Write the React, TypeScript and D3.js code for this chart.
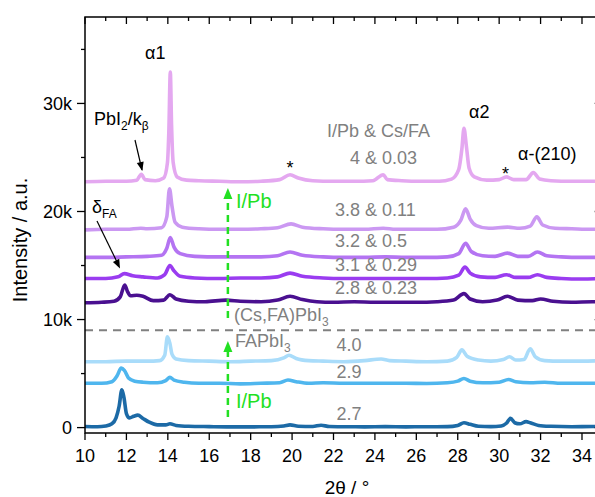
import React from 'react';
import * as d3 from 'd3';

// ---------- data (2θ in °, intensity in counts) ----------
const s27: [number, number][] = [
  [10,100],[10.6,80],[11.0,150],[11.3,350],[11.5,900],[11.65,2000],[11.78,3500],[11.88,2800],[12.0,1300],[12.15,900],[12.35,1050],[12.55,1150],[12.8,850],[13.1,500],[13.5,250],[13.9,250],[14.1,350],[14.4,200],[15,120],[16,90],[17,70],[18,70],[19,80],[19.6,150],[19.9,250],[20.3,120],[21,100],[21.4,220],[21.8,100],[22.5,80],[23.5,70],[24.5,90],[25.5,70],[26.5,80],[27.5,90],[28,200],[28.3,450],[28.6,300],[29.0,120],[29.6,90],[30.1,150],[30.35,400],[30.55,850],[30.75,450],[31.0,350],[31.3,550],[31.5,450],[31.9,200],[32.5,120],[33.5,80],[34.5,100],[35,100]
];
const s29: [number, number][] = [
  [10,4100],[10.8,4100],[11.3,4250],[11.55,4800],[11.75,5500],[11.9,5300],[12.1,4600],[12.4,4300],[12.8,4200],[13.5,4150],[13.9,4350],[14.1,4650],[14.3,4400],[14.8,4200],[15.5,4100],[16.5,4100],[17.5,4050],[18.5,4100],[19.4,4150],[19.8,4400],[20.2,4250],[20.8,4100],[21.5,4150],[22.5,4100],[23.5,4100],[24.5,4100],[25.5,4100],[26.5,4080],[27.5,4150],[28.0,4300],[28.3,4550],[28.6,4300],[29.2,4150],[30.0,4200],[30.45,4450],[30.8,4250],[31.5,4150],[32.2,4200],[33,4100],[34,4100],[35,4100]
];
const s40: [number, number][] = [
  [10,6100],[11,6100],[12,6150],[13,6150],[13.6,6200],[13.85,6700],[13.98,8400],[14.1,7800],[14.2,6800],[14.4,6350],[15,6200],[16,6150],[17,6100],[18,6150],[19,6200],[19.6,6450],[19.85,6700],[20.2,6400],[20.8,6200],[21.5,6150],[22.5,6100],[23.5,6200],[24.3,6350],[24.7,6200],[25.5,6150],[26.5,6100],[27.5,6150],[27.95,6500],[28.2,7200],[28.45,6600],[29,6250],[29.6,6150],[30.2,6300],[30.5,6550],[30.8,6250],[31.2,6300],[31.5,7300],[31.75,6550],[32.2,6200],[33,6150],[34,6150],[35,6200]
];
const s28: [number, number][] = [
  [10,11550],[10.8,11600],[11.4,11700],[11.7,12100],[11.92,13200],[12.05,12600],[12.2,12200],[12.5,12250],[12.8,12150],[13.3,11750],[13.8,11800],[14.1,12300],[14.4,11900],[15,11700],[15.8,11650],[16.8,11800],[17.5,11700],[18.5,11650],[19.3,11800],[19.9,12150],[20.5,11850],[21.2,11650],[22,11600],[23,11650],[24,11600],[25,11600],[26,11600],[27,11650],[27.8,11800],[28.3,12400],[28.6,11900],[29.2,11650],[29.9,11800],[30.4,12150],[30.9,11800],[31.6,11750],[32,11900],[32.6,11700],[33.5,11600],[34.5,11650],[35,11650]
];
const s31: [number, number][] = [
  [10,13800],[11,13800],[11.6,13950],[11.9,14250],[12.3,14050],[12.8,13950],[13.5,13850],[13.85,14150],[14.1,15000],[14.3,14500],[14.6,14000],[15.3,13850],[16.5,13800],[17.5,13850],[18.5,13850],[19.3,13950],[19.9,14300],[20.5,14000],[21.5,13850],[22.5,13800],[23.5,13800],[24.5,13800],[25.5,13800],[26.5,13800],[27.5,13850],[28.05,14100],[28.35,14850],[28.6,14300],[29.1,13950],[29.8,13900],[30.35,14150],[30.8,13900],[31.4,13900],[31.85,14150],[32.3,13900],[33,13800],[34,13750],[35,13800]
];
const s32: [number, number][] = [
  [10,15750],[11,15750],[12,15800],[13,15850],[13.7,15950],[13.95,16600],[14.12,17600],[14.3,16700],[14.6,16100],[15.3,15850],[16.5,15800],[17.5,15800],[18.5,15800],[19.3,15900],[19.9,16250],[20.5,15950],[21.5,15800],[22.5,15750],[23.5,15750],[24.5,15800],[25.5,15750],[26.5,15750],[27.5,15800],[28.05,16100],[28.38,17050],[28.65,16300],[29.2,15900],[29.8,15850],[30.4,16150],[30.9,15850],[31.4,15850],[31.85,16250],[32.3,15900],[33,15800],[34,15750],[35,15750]
];
const s38: [number, number][] = [
  [10,18300],[11,18350],[12,18350],[12.7,18450],[13,18400],[13.7,18500],[13.95,19500],[14.08,22100],[14.2,20500],[14.35,19000],[14.7,18550],[15.5,18400],[16.5,18350],[17.5,18350],[18.5,18400],[19.3,18500],[19.95,18850],[20.5,18550],[21.5,18400],[22.5,18350],[23.5,18350],[24.4,18450],[25,18350],[26,18350],[27,18350],[27.8,18550],[28.15,19200],[28.38,20250],[28.6,19300],[28.9,18700],[29.5,18450],[30.4,18550],[31,18450],[31.5,18650],[31.82,19500],[32.1,18750],[32.7,18450],[33.5,18400],[34.5,18350],[35,18350]
];
const s4003: [number, number][] = [
  [10,22750],[11,22800],[12,22800],[12.5,22900],[12.72,23450],[12.9,22950],[13.4,22850],[13.8,23100],[13.98,24500],[14.05,27500],[14.12,32900],[14.18,28000],[14.26,24500],[14.45,23200],[14.9,22900],[15.5,22850],[16.5,22800],[17.5,22750],[18.5,22800],[19.4,22950],[19.9,23400],[20.3,23100],[21,22850],[22,22800],[23,22800],[23.9,22850],[24.4,23400],[24.6,22950],[25.3,22850],[26.2,22800],[27.1,22800],[27.7,23000],[28.05,23900],[28.2,25800],[28.3,27700],[28.42,26000],[28.55,24000],[28.8,23200],[29.4,22900],[30.0,22950],[30.35,23200],[30.7,22950],[31.3,22950],[31.65,23600],[31.95,23000],[32.5,22850],[33.5,22800],[34.5,22800],[35,22800]
];

const seriesData = [s27, s29, s40, s28, s31, s32, s38, s4003];
const seriesColors = ['#1c6aa6', '#4fb6ee', '#a9dcfa', '#4a1090', '#9a3cf0', '#b474f2', '#cb98f2', '#e4a8f0'];
const seriesLabels = ['2.7', '2.9', '4.0', '2.8 & 0.23', '3.1 & 0.29', '3.2 & 0.5', '3.8 & 0.11', '4 & 0.03'];
const labelPos: [number, number][] = [[22.15, 420], [22.15, 377.5], [22.15, 350.5], [22.07, 293.5], [22.07, 271], [22.07, 247], [22.07, 215.5], [22.8, 163.5]];

const xMajor = [10, 12, 14, 16, 18, 20, 22, 24, 26, 28, 30, 32, 34];
const xMinor = [11, 13, 15, 17, 19, 21, 23, 25, 27, 29, 31, 33, 35];
const yMajor = [0, 10000, 20000, 30000];
const yMajorLabels = ['0', '10k', '20k', '30k'];
const yMinor = [5000, 15000, 25000, 35000];
const separatorLevel = 9000;

const FONT = "'Liberation Sans', Arial, sans-serif";

export default function App() {
  const left = 85, right = 602.7, top = 17, bottom = 433;
  const x = d3.scaleLinear().domain([10, 35]).range([left, right]);
  const y = d3.scaleLinear().domain([-500, 38000]).range([bottom, top]);
  const line = d3.line<[number, number]>().x(d => x(d[0])).y(d => y(d[1])).curve(d3.curveMonotoneX);
  const gray = '#808080';
  const green = '#22e022';
  const gx = x(16.9);

  const arrowHead = (x2: number, y2: number, x1: number, y1: number, color: string, len = 9, wid = 4) => {
    const a = Math.atan2(y2 - y1, x2 - x1);
    const bx = x2 - len * Math.cos(a), by = y2 - len * Math.sin(a);
    const px = -Math.sin(a) * wid, py = Math.cos(a) * wid;
    return <path d={`M${x2},${y2}L${bx + px},${by + py}L${bx - px},${by - py}Z`} fill={color} />;
  };

  return (
    <svg width={595} height={497} style={{ position: 'fixed', left: 0, top: 0, background: '#fff' }} fontFamily={FONT}>
      <rect x={0} y={0} width={595} height={497} fill="#fff" />
      <defs>
        <clipPath id="plot"><rect x={left} y={top} width={right - left} height={bottom - top} /></clipPath>
      </defs>
      {/* traces */}
      <g clipPath="url(#plot)">
        {seriesData.map((d, i) => (
          <path key={i} d={line(d) || ''} fill="none" stroke={seriesColors[i]} strokeWidth={3.6} strokeLinejoin="round" />
        ))}
        <line x1={left} x2={right} y1={y(separatorLevel)} y2={y(separatorLevel)} stroke={gray} strokeWidth={2} strokeDasharray="8,6" />
      </g>
      {/* series labels */}
      {seriesLabels.map((t, i) => (
        <text key={i} x={x(labelPos[i][0])} y={labelPos[i][1]} fontSize={18} fill={gray}>{t}</text>
      ))}
      <text x={327} y={137} fontSize={18} fill={gray}>I/Pb &amp; Cs/FA</text>
      <text x={234} y={321} fontSize={18} fill={gray}>(Cs,FA)PbI<tspan fontSize={12} dy={5}>3</tspan></text>
      <text x={235} y={347} fontSize={18} fill={gray}>FAPbI<tspan fontSize={12} dy={5}>3</tspan></text>

      {/* green arrows */}
      <line x1={gx} x2={gx} y1={417} y2={350} stroke={green} strokeWidth={2.5} strokeDasharray="7,5" />
      {arrowHead(gx, 341, gx, 417, green, 11, 4.5)}
      <line x1={gx} x2={gx} y1={318} y2={197} stroke={green} strokeWidth={2.5} strokeDasharray="7,5" />
      {arrowHead(gx, 188, gx, 318, green, 11, 4.5)}
      <text x={236} y={208} fontSize={20} fill={green}>I/Pb</text>
      <text x={236} y={408} fontSize={20} fill={green}>I/Pb</text>

      {/* annotations */}
      <text x={145} y={59} fontSize={18} fill="#000">α1</text>
      <text x={469} y={118} fontSize={18} fill="#000">α2</text>
      <text x={518} y={160} fontSize={18} fill="#000">α-(210)</text>
      <text x={94} y={125} fontSize={18} fill="#000">PbI<tspan fontSize={12} dy={5}>2</tspan><tspan dy={-5}>/k</tspan><tspan fontSize={12} dy={5}>β</tspan></text>
      <text x={92} y={213} fontSize={18} fill="#000">δ<tspan fontSize={12} dy={5}>FA</tspan></text>
      <text x={290} y={174} fontSize={18} fill="#000" textAnchor="middle">*</text>
      <text x={505.5} y={180} fontSize={18} fill="#000" textAnchor="middle">*</text>
      <line x1={135} y1={140} x2={142} y2={170} stroke="#000" strokeWidth={1.2} />
      {arrowHead(142.3, 171, 135, 140, '#000', 9, 3.5)}
      <line x1={97} y1={221} x2={118} y2={264} stroke="#000" strokeWidth={1.2} />
      {arrowHead(120, 268.5, 97, 221, '#000', 9, 3.5)}

      {/* axes frame */}
      <rect x={left} y={top} width={right - left} height={bottom - top} fill="none" stroke="#000" strokeWidth={1.5} />
      {xMajor.map(v => (
        <g key={'xM' + v}>
          <line x1={x(v)} x2={x(v)} y1={bottom} y2={bottom + 7} stroke="#000" strokeWidth={1.3} />
          <line x1={x(v)} x2={x(v)} y1={top} y2={top + 7} stroke="#000" strokeWidth={1.3} />
          <text x={x(v)} y={462} fontSize={18} textAnchor="middle" fill="#000">{v}</text>
        </g>
      ))}
      {xMinor.map(v => (
        <g key={'xm' + v}>
          <line x1={x(v)} x2={x(v)} y1={bottom} y2={bottom + 4} stroke="#000" strokeWidth={1.3} />
          <line x1={x(v)} x2={x(v)} y1={top} y2={top + 4} stroke="#000" strokeWidth={1.3} />
        </g>
      ))}
      {yMajor.map((v, i) => (
        <g key={'yM' + v}>
          <line x1={left - 8} x2={left} y1={y(v)} y2={y(v)} stroke="#000" strokeWidth={1.3} />
          <line x1={right - 8} x2={right} y1={y(v)} y2={y(v)} stroke="#000" strokeWidth={1.3} />
          <text x={72} y={y(v)} dy="0.35em" fontSize={18} textAnchor="end" fill="#000">{yMajorLabels[i]}</text>
        </g>
      ))}
      {yMinor.map(v => (
        <g key={'ym' + v}>
          <line x1={left - 4} x2={left} y1={y(v)} y2={y(v)} stroke="#000" strokeWidth={1.3} />
          <line x1={right - 4} x2={right} y1={y(v)} y2={y(v)} stroke="#000" strokeWidth={1.3} />
        </g>
      ))}
      <text x={347} y={494} fontSize={19} textAnchor="middle" fill="#000">2θ / °</text>
      <text transform="translate(27,240) rotate(-90)" fontSize={20} textAnchor="middle" fill="#000">Intensity / a.u.</text>
    </svg>
  );
}
